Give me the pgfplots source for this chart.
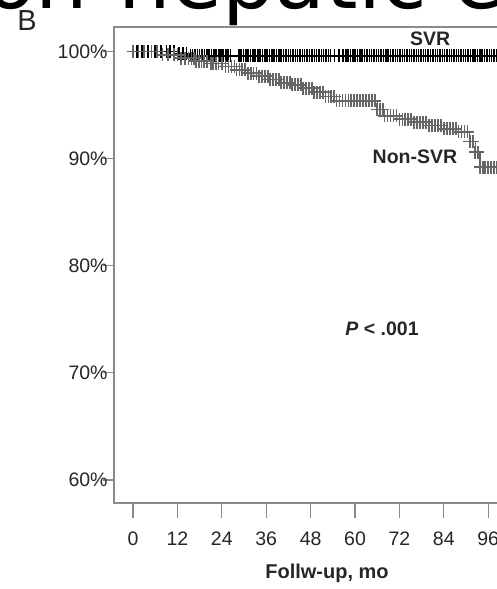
\documentclass[border=0pt]{standalone}
\usepackage{fontspec}
\setmainfont{Liberation Sans}
\newfontfamily\bigfont{DejaVu Sans}
\usepackage{pgfplots}
\pgfplotsset{compat=1.18}
\definecolor{axgray}{HTML}{8A8A8A}
\definecolor{txt}{HTML}{262626}
\definecolor{nonsvr}{HTML}{666666}
\newcommand{\chartfont}{\fontsize{19.5bp}{22bp}\selectfont}
\begin{document}
\begin{tikzpicture}[x=1bp,y=1bp]
% cropped panel title above the chart
\node[anchor=base west, inner sep=0pt, font=\bigfont\fontsize{83bp}{90bp}\selectfont] at (-15,-9) {on-hepatic e};
\node[font=\fontsize{29bp}{32bp}\selectfont, text=txt] at (27,-21) {B};
\begin{axis}[
    scale only axis, width=426bp, height=476bp,
    at={(114bp,-503bp)}, anchor=south west,
    xmin=-5.14, xmax=110, ymin=57.85, ymax=102.3,
    axis line style={axgray, line width=1.2bp},
    xtick={0,12,...,108}, ytick={60,70,...,100},
    xtick pos=bottom, ytick pos=left, tick align=outside,
    xtick style={axgray, line width=1.2bp, /pgfplots/major tick length=15bp},
    ytick style={axgray, line width=1.2bp, /pgfplots/major tick length=11bp},
    yticklabel={\pgfmathprintnumber{\tick}\%},
    ticklabel style={font=\chartfont, text=txt},
    yticklabel style={inner sep=2bp},
    xticklabel style={inner sep=2bp, yshift=-22bp},
    /pgf/number format/assume math mode=true,
    xlabel={\textbf{Follw-up, mo}},
    xlabel style={at={(axis description cs:0.5,0)}, anchor=center, yshift=-70bp, font=\fontsize{20bp}{22bp}\selectfont, text=txt},
    clip=false,
]
% SVR
\addplot[black, line width=1bp, const plot, mark=+, mark size=6.5bp, mark options={line width=1.6bp}] coordinates {
(0,100)(1,100)(2.5,100)(4,100)(6,100)(7.5,100)(9,100)(10,100)(11,100)
(12.5,99.8)(13.5,99.8)(14.5,99.8)
(15.5,99.6)(16.1,99.6)(16.8,99.6)(17.4,99.6)(18,99.6)(18.7,99.6)(19.3,99.6)(20,99.6)(20.6,99.6)(21.2,99.6)
(21.9,99.6)(22.5,99.6)(23.2,99.6)(23.8,99.6)(24.4,99.6)(25.1,99.6)(25.7,99.6)(26.3,99.6)
(28.6,99.6)(29.2,99.6)(29.9,99.6)(30.5,99.6)(31.1,99.6)(31.8,99.6)(32.4,99.6)(33,99.6)(33.7,99.6)(34.3,99.6)
(35,99.6)(35.6,99.6)(36.2,99.6)(36.9,99.6)(37.5,99.6)(38.1,99.6)(38.8,99.6)(39.4,99.6)(40,99.6)(40.7,99.6)
(41.3,99.6)(42,99.6)(42.6,99.6)(43.2,99.6)(43.9,99.6)(44.5,99.6)(45.1,99.6)(45.8,99.6)(46.4,99.6)(47,99.6)
(47.7,99.6)(48.3,99.6)(49,99.6)(49.6,99.6)(50.2,99.6)(50.9,99.6)(51.5,99.6)(52.1,99.6)(52.8,99.6)(53.4,99.6)
(54.5,99.6)(55.6,99.6)(56.8,99.6)(57.5,99.6)(58.1,99.6)(58.8,99.6)(59.4,99.6)(60,99.6)(60.7,99.6)(61.3,99.6)
(61.9,99.6)(62.6,99.6)(63.2,99.6)(63.9,99.6)(64.5,99.6)(65.1,99.6)(65.8,99.6)(66.4,99.6)(67,99.6)(67.7,99.6)
(68.3,99.6)(68.9,99.6)(69.6,99.6)(70.2,99.6)(70.9,99.6)(71.5,99.6)(72.1,99.6)(72.8,99.6)(73.4,99.6)(74,99.6)
(74.7,99.6)(75.3,99.6)(75.9,99.6)(76.6,99.6)(77.2,99.6)(77.9,99.6)(78.5,99.6)(79.1,99.6)(79.8,99.6)(80.4,99.6)
(81,99.6)(81.7,99.6)(82.3,99.6)(82.9,99.6)(83.6,99.6)(84.2,99.6)(84.9,99.6)(85.5,99.6)(86.1,99.6)(86.8,99.6)
(87.4,99.6)(88,99.6)(88.7,99.6)(89.3,99.6)(89.9,99.6)(90.6,99.6)(91.2,99.6)(91.9,99.6)(92.5,99.6)(93.1,99.6)
(93.8,99.6)(94.4,99.6)(95,99.6)(95.7,99.6)(96.3,99.6)(96.9,99.6)(97.6,99.6)(98.2,99.6)(98.9,99.6)(99.5,99.6)
(100.1,99.6)(100.8,99.6)(101.4,99.6)
};
% Non-SVR
\addplot[nonsvr, line width=1.4bp, const plot, mark=+, mark size=6.5bp, mark options={line width=1.7bp}] coordinates {
(0,100)(1.5,100)(3,100)(5,100)(6.5,100)
(8,99.7)(9.5,99.7)(11,99.7)(12,99.7)
(13,99.4)(14,99.4)(15,99.4)(15.8,99.4)(16.5,99.4)
(17,99.1)(17.8,99.1)(18.5,99.1)(19.2,99.1)(20,99.1)
(21,98.9)(21.7,98.9)(22.4,98.9)(23.1,98.9)(24,98.9)
(25,98.6)(25.8,98.6)(26.6,98.6)(27.4,98.6)
(28,98.3)(28.8,98.3)(29.5,98.3)(30.3,98.3)
(31,98.0)(31.8,98.0)(32.6,98.0)(33.4,98.0)
(34,97.7)(34.8,97.7)(35.6,97.7)(36.4,97.7)
(37,97.4)(37.8,97.4)(38.6,97.4)(39.4,97.4)
(40,97.1)(40.8,97.1)(41.6,97.1)(42.4,97.1)
(43,96.9)(43.8,96.9)(44.6,96.9)(45.4,96.9)
(46,96.6)(46.8,96.6)(47.6,96.6)(48.4,96.6)
(49,96.2)(49.8,96.2)(50.6,96.2)(51.4,96.2)
(52,95.8)(52.8,95.8)(53.6,95.8)(54.4,95.8)
(55,95.4)(55.8,95.4)(56.6,95.4)(57.4,95.4)(58.2,95.4)(59,95.4)(59.8,95.4)(60.6,95.4)
(61.4,95.4)(62.2,95.4)(63,95.4)(63.8,95.4)(64.6,95.4)(65.4,95.4)
(66,94.6)(66.8,94.6)(67.5,94.6)
(68,94.0)(68.8,94.0)(69.6,94.0)(70.4,94.0)(71.2,94.0)
(72,93.7)(72.8,93.7)(73.6,93.7)(74.4,93.7)(75.2,93.7)
(76,93.4)(76.8,93.4)(77.6,93.4)(78.4,93.4)(79.2,93.4)
(80,93.1)(80.8,93.1)(81.6,93.1)(82.4,93.1)(83.2,93.1)
(84,92.8)(84.8,92.8)(85.6,92.8)(86.4,92.8)(87.2,92.8)
(88,92.5)(88.8,92.5)(89.6,92.5)(90.4,92.5)
(91,91.6)(91.8,91.6)
(92.5,90.6)(93.2,90.6)
(93.8,89.2)(94.5,89.2)(95.2,89.2)(96,89.2)(96.8,89.2)(97.6,89.2)(98.4,89.2)(99.2,89.2)
(100,89.2)(101,89.2)(102,89.2)
};
\node[font=\chartfont\bfseries, text=txt] at (axis cs:80.3,101.2) {SVR};
\node[font=\chartfont\bfseries, text=txt] at (axis cs:76.2,90.2) {Non-SVR};
\node[font=\chartfont\bfseries, text=txt] at (axis cs:67.3,74.1) {\textit{P} < .001};
\end{axis}
\pgfresetboundingbox
\useasboundingbox (0,0) rectangle (497,-589);
\end{tikzpicture}
\end{document}
